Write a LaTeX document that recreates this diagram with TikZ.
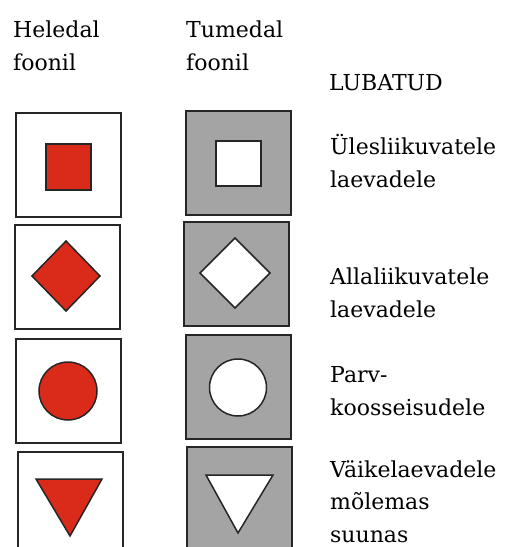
\documentclass[tikz,border=0pt]{standalone}
\usepackage{fontspec}
\setmainfont{DejaVu Serif}
\usetikzlibrary{positioning}

\definecolor{signred}{RGB}{218,42,26}
\definecolor{signgray}{RGB}{164,164,164}

\tikzset{
  lightbox/.style={draw=black!85, line width=2pt, fill=white, minimum width=105pt, minimum height=104pt, inner sep=0pt},
  darkbox/.style={lightbox, fill=signgray},
  redmark/.style={draw=black!85, line width=1.5pt, fill=signred},
  whitemark/.style={draw=black!85, line width=1.5pt, fill=white},
  label/.style={anchor=base west, inner sep=0pt, font=\fontsize{22}{32.5}\selectfont, align=left},
}

\begin{document}
\begin{tikzpicture}[x=1pt, y=-1pt]
      \useasboundingbox (0,0) rectangle (508,547);
      \clip (0,0) rectangle (508,547);

      % base anchor sits on the last line
      \node[label] (headlight) at (13,70) {Heledal\\foonil};
      \node[label] (headdark) at (186,70) {Tumedal\\foonil};
      \node[label] (headallow) at (329,90) {LUBATUD};

      % up-bound vessels
      \node[lightbox] (light1) at (68.5,165) {};
      \node[darkbox] (dark1) at (238.5,162.5) {};
      \draw[redmark] (46,144) rectangle (91,190);
      \draw[whitemark] (216,141) rectangle (261,186);
      \node[label] (text1) at (330,187) {Ülesliikuvatele\\laevadele};

      % down-bound vessels
      \node[lightbox] (light2) at (67.5,276.5) {};
      \node[darkbox] (dark2) at (236,274) {};
      \draw[redmark] (32,276) -- (66,241) -- (100,276) -- (66,311) -- cycle;
      \draw[whitemark] (200,273) -- (235,238) -- (270,273) -- (235,308) -- cycle;
      \node[label] (text2) at (330,317) {Allaliikuvatele\\laevadele};

      % rafts
      \node[lightbox] (light3) at (68.5,390.5) {};
      \node[darkbox] (dark3) at (238.5,387) {};
      \draw[redmark] (68,391) circle (29);
      \draw[whitemark] (238,387.5) circle (28.5);
      \node[label] (text3) at (330,415) {Parv-\\koosseisudele};

      % small craft, both ways
      \node[lightbox] (light4) at (70.5,503.5) {};
      \node[darkbox] (dark4) at (239.5,499) {};
      \draw[redmark] (36,479) -- (102,479) -- (70,536) -- cycle;
      \draw[whitemark] (206,475) -- (273,475) -- (238,533) -- cycle;
      \node[label] (text4) at (330,542) {Väikelaevadele\\mõlemas\\suunas};
    \end{tikzpicture}
\end{document}
